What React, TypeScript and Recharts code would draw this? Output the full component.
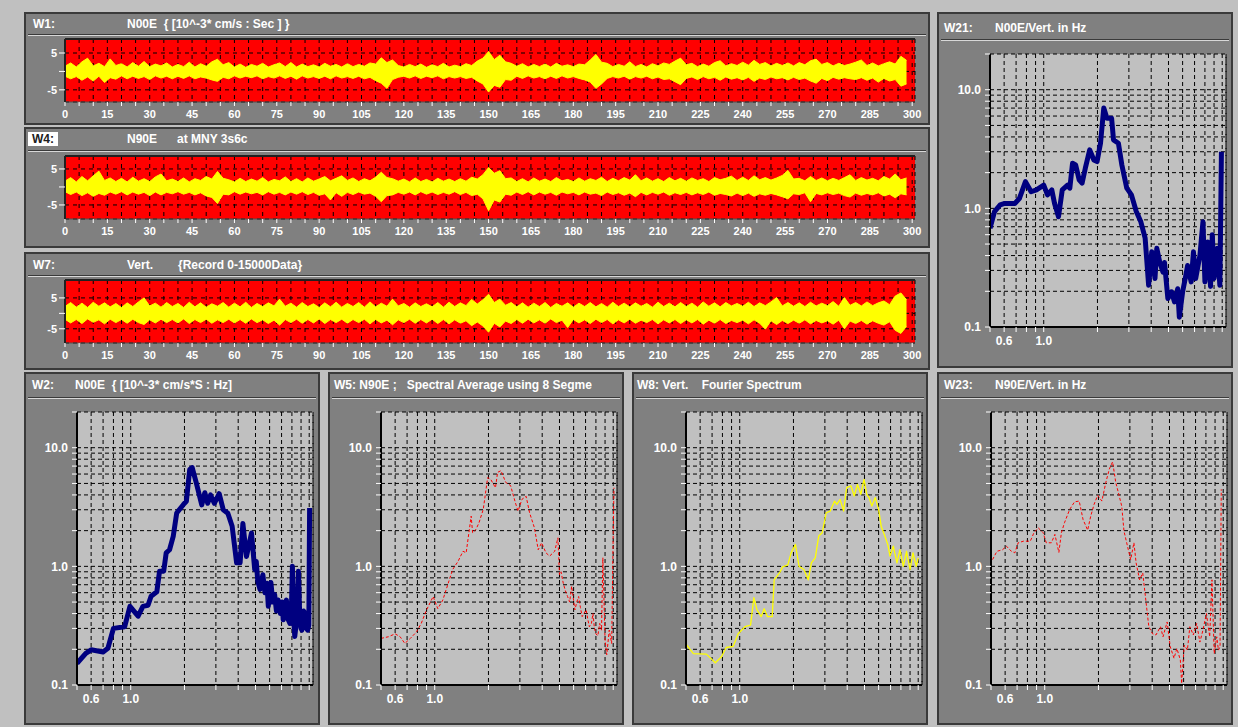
import React from 'react';
import {
  ComposedChart,
  Area,
  LineChart,
  Line,
  XAxis,
  YAxis,
  CartesianGrid,
  ReferenceLine,
} from 'recharts';

const FONT = '"Liberation Sans", Arial, sans-serif';

// sample grid of the time traces (2 s bins, seconds)
const waveSeconds = [
  0, 2, 4, 6, 8, 10, 12, 14, 16, 18,
  20, 22, 24, 26, 28, 30, 32, 34, 36, 38,
  40, 42, 44, 46, 48, 50, 52, 54, 56, 58,
  60, 62, 64, 66, 68, 70, 72, 74, 76, 78,
  80, 82, 84, 86, 88, 90, 92, 94, 96, 98,
  100, 102, 104, 106, 108, 110, 112, 114, 116, 118,
  120, 122, 124, 126, 128, 130, 132, 134, 136, 138,
  140, 142, 144, 146, 148, 150, 152, 154, 156, 158,
  160, 162, 164, 166, 168, 170, 172, 174, 176, 178,
  180, 182, 184, 186, 188, 190, 192, 194, 196, 198,
  200, 202, 204, 206, 208, 210, 212, 214, 216, 218,
  220, 222, 224, 226, 228, 230, 232, 234, 236, 238,
  240, 242, 244, 246, 248, 250, 252, 254, 256, 258,
  260, 262, 264, 266, 268, 270, 272, 274, 276, 278,
  280, 282, 284, 286, 288, 290, 292, 294, 296, 298,
];

const timeTicks = [
  0, 5, 10, 15, 20, 25, 30, 35, 40, 45, 50, 55, 60, 65, 70, 75, 80, 85, 90, 95,
  100, 105, 110, 115, 120, 125, 130, 135, 140, 145, 150, 155, 160, 165, 170, 175,
  180, 185, 190, 195, 200, 205, 210, 215, 220, 225, 230, 235, 240, 245, 250, 255,
  260, 265, 270, 275, 280, 285, 290, 295, 300,
];
const ampTicks = [-5, 0, 5];

// envelope of the traces per bin (10^-3 cm/s)
const w1Hi = [
  1.4, 2.3, 1.2, 2.6, 3.6, 1.5, 2.2, 1.3, 3.4, 1.6,
  2.1, 1.2, 2.4, 1.4, 2.7, 1.3, 2.0, 1.5, 2.3, 1.2,
  1.9, 1.3, 2.5, 1.2, 2.1, 1.4, 2.6, 3.3, 1.8, 2.4,
  1.2, 2.0, 1.1, 1.9, 1.4, 2.2, 1.2, 1.8, 2.3, 1.3,
  2.4, 1.2, 2.0, 1.3, 1.8, 1.2, 2.2, 1.4, 1.9, 1.2,
  2.1, 1.3, 1.9, 1.4, 2.3, 2.0, 3.7, 2.4, 3.1, 1.6,
  1.2, 1.9, 1.3, 2.0, 1.1, 1.8, 1.3, 2.2, 1.2, 1.7,
  1.3, 2.1, 1.6, 2.8, 3.6, 5.4, 3.2, 4.4, 2.6, 2.2,
  1.4, 2.1, 1.2, 1.9, 1.3, 2.0, 1.2, 2.2, 1.4, 1.8,
  1.3, 2.0, 1.8, 3.1, 4.6, 2.5, 2.2, 1.3, 1.9, 1.4,
  2.6, 1.3, 1.9, 1.2, 2.1, 1.5, 2.3, 1.9, 2.8, 3.6,
  1.8, 2.2, 1.3, 2.0, 1.4, 2.4, 2.9, 1.5, 2.1, 1.6,
  2.5, 1.7, 3.0, 1.9, 2.4, 1.5, 2.2, 1.6, 2.3, 1.5,
  2.4, 1.8, 2.9, 3.3, 1.9, 2.4, 1.5, 2.2, 1.6, 2.0,
  2.5, 3.1, 1.6, 2.3, 1.5, 2.1, 2.6, 2.0, 4.1, 3.0,
];
const w1Lo = [
  -1.3, -2.0, -1.4, -2.4, -1.5, -2.6, -1.3, -3.0, -1.7, -2.1,
  -1.2, -2.0, -1.3, -1.9, -1.4, -2.2, -1.2, -1.8, -1.3, -2.0,
  -1.3, -1.9, -1.2, -2.0, -1.5, -1.8, -2.3, -2.7, -1.6, -2.0,
  -1.2, -1.8, -1.3, -1.7, -1.2, -2.0, -1.4, -1.8, -1.2, -1.9,
  -1.3, -2.1, -1.2, -1.8, -1.4, -1.9, -1.3, -2.0, -1.2, -1.8,
  -1.4, -1.9, -1.3, -2.0, -1.6, -2.5, -3.2, -4.6, -2.2, -1.6,
  -1.3, -1.8, -1.2, -1.9, -1.3, -1.7, -1.2, -2.0, -1.4, -1.8,
  -1.4, -1.9, -1.6, -2.6, -3.4, -5.6, -3.8, -4.3, -2.2, -2.4,
  -1.3, -1.9, -1.2, -1.8, -1.4, -2.0, -1.3, -1.9, -1.2, -1.8,
  -1.4, -1.9, -2.3, -2.9, -4.6, -3.4, -1.9, -1.4, -1.8, -1.3,
  -2.1, -1.4, -1.8, -1.3, -2.0, -1.5, -2.2, -2.0, -2.8, -3.6,
  -1.9, -1.5, -2.2, -1.4, -2.0, -1.6, -2.4, -1.5, -2.1, -1.7,
  -2.3, -1.6, -2.7, -1.8, -2.2, -1.5, -2.0, -1.7, -2.3, -1.6,
  -2.2, -1.8, -2.6, -3.2, -1.9, -2.5, -1.6, -2.1, -1.7, -2.0,
  -2.2, -1.7, -2.4, -1.8, -2.9, -1.9, -2.6, -2.2, -4.0, -3.4,
];

const w4Hi = [
  1.6, 2.6, 1.4, 2.9, 1.7, 3.1, 4.4, 1.8, 2.5, 1.5,
  2.4, 1.4, 2.7, 1.6, 2.3, 1.5, 2.8, 3.6, 1.7, 2.2,
  1.5, 2.5, 1.4, 2.3, 1.8, 2.9, 2.2, 4.3, 2.4, 2.0,
  1.4, 2.4, 1.5, 2.2, 1.6, 2.6, 1.4, 2.1, 1.7, 2.8,
  1.5, 2.3, 1.4, 2.5, 1.6, 2.2, 2.9, 1.7, 2.4, 3.1,
  1.8, 2.5, 1.5, 2.3, 1.7, 2.7, 4.1, 2.6, 2.3, 1.6,
  2.2, 1.4, 2.5, 1.5, 2.1, 1.4, 2.4, 1.6, 2.2, 1.5,
  2.3, 1.6, 2.7, 2.2, 3.4, 5.4, 3.8, 4.5, 2.3, 2.5,
  1.5, 2.3, 1.4, 2.5, 1.6, 2.2, 1.5, 2.6, 1.7, 2.1,
  1.5, 2.5, 1.6, 2.3, 1.8, 2.7, 1.5, 2.4, 1.7, 2.6,
  1.9, 3.4, 1.7, 2.5, 1.6, 2.3, 1.5, 2.6, 1.7, 2.4,
  1.6, 2.5, 1.8, 2.3, 1.5, 2.6, 2.0, 2.4, 3.0, 1.8,
  2.7, 1.8, 3.1, 2.0, 2.6, 1.9, 2.5, 3.2, 4.6, 2.2,
  2.4, 1.7, 2.9, 1.8, 2.5, 1.7, 2.4, 1.8, 2.6, 3.4,
  1.8, 2.6, 1.9, 2.4, 1.7, 2.9, 2.2, 3.6, 2.0, 2.5,
];
const w4Lo = [
  -1.3, -2.1, -1.4, -2.4, -1.6, -2.6, -1.8, -2.3, -1.4, -2.0,
  -1.3, -2.2, -1.4, -2.0, -1.5, -2.4, -1.4, -2.2, -1.5, -1.9,
  -1.3, -2.0, -1.5, -2.2, -1.6, -2.5, -2.9, -4.6, -2.0, -2.2,
  -1.3, -2.0, -1.4, -1.9, -1.5, -2.2, -1.3, -2.0, -1.5, -2.2,
  -1.4, -2.0, -1.3, -2.1, -1.5, -2.3, -1.9, -3.6, -1.6, -2.6,
  -1.5, -2.1, -1.4, -2.0, -1.7, -2.6, -4.1, -2.4, -2.2, -1.5,
  -2.0, -1.4, -2.2, -1.3, -2.0, -1.4, -2.1, -1.5, -2.0, -1.3,
  -2.1, -1.5, -2.4, -2.0, -3.3, -6.6, -3.6, -4.2, -2.0, -2.3,
  -1.4, -2.1, -1.3, -2.2, -1.4, -2.0, -1.5, -2.3, -1.4, -1.9,
  -1.5, -2.2, -1.4, -2.0, -1.7, -2.4, -1.4, -2.1, -1.6, -2.3,
  -1.7, -2.7, -1.5, -2.2, -1.5, -2.0, -1.4, -2.3, -1.6, -2.1,
  -1.5, -2.2, -1.6, -2.1, -1.4, -2.3, -1.8, -2.1, -2.5, -1.7,
  -2.4, -1.7, -2.6, -1.9, -2.3, -1.8, -2.2, -2.7, -3.3, -1.9,
  -2.1, -1.6, -4.1, -1.8, -2.2, -1.6, -2.1, -1.7, -2.4, -2.8,
  -1.7, -2.3, -1.8, -2.2, -1.6, -2.5, -2.0, -3.0, -1.9, -2.2,
];

const w7Hi = [
  2.2, 3.5, 2.0, 3.3, 1.9, 3.6, 2.3, 3.4, 2.1, 3.2,
  1.9, 3.4, 2.2, 3.7, 5.0, 2.4, 3.3, 2.0, 3.5, 2.2,
  3.2, 1.9, 3.6, 2.1, 3.4, 2.0, 3.1, 2.3, 3.5, 2.0,
  3.3, 2.1, 3.6, 1.9, 3.2, 2.2, 3.4, 2.4, 4.6, 2.3,
  3.3, 2.0, 3.5, 2.2, 3.1, 1.9, 3.4, 2.1, 3.6, 2.0,
  3.2, 2.2, 3.5, 2.0, 3.7, 2.1, 3.3, 2.3, 4.6, 2.4,
  3.2, 2.0, 3.4, 2.2, 3.1, 2.1, 3.5, 2.0, 3.6, 2.2,
  3.4, 2.5, 4.5, 3.0, 4.4, 6.2, 3.5, 4.6, 2.6, 3.5,
  2.1, 3.4, 2.0, 3.3, 2.2, 3.5, 1.9, 3.2, 2.3, 3.4,
  2.0, 3.3, 2.2, 3.5, 2.1, 3.2, 2.0, 3.6, 2.2, 3.3,
  2.1, 3.4, 2.3, 3.2, 2.0, 3.6, 2.2, 3.3, 2.1, 3.5,
  2.2, 3.3, 2.0, 3.7, 2.3, 3.4, 2.1, 3.5, 2.4, 3.2,
  2.3, 3.6, 2.2, 3.4, 2.5, 3.7, 5.1, 2.4, 3.5, 2.3,
  3.4, 2.2, 3.6, 2.4, 3.3, 2.5, 3.8, 2.3, 5.1, 2.6,
  3.5, 2.4, 3.7, 2.5, 3.4, 4.0, 2.8, 5.6, 6.6, 4.4,
];
const w7Lo = [
  -1.9, -3.1, -2.0, -3.3, -1.8, -2.9, -2.1, -3.4, -1.9, -3.0,
  -2.0, -3.2, -1.9, -3.0, -3.6, -2.1, -3.1, -1.9, -3.0, -2.0,
  -3.1, -1.8, -3.3, -2.0, -3.0, -1.9, -3.2, -2.1, -3.0, -1.9,
  -3.1, -2.0, -3.2, -1.8, -3.0, -2.1, -3.3, -2.2, -3.8, -2.0,
  -3.0, -1.9, -3.2, -2.0, -3.1, -1.8, -3.3, -2.0, -3.0, -1.9,
  -3.2, -2.0, -3.0, -1.9, -3.4, -2.0, -3.1, -2.2, -3.7, -2.1,
  -3.0, -1.9, -3.2, -2.0, -3.1, -1.9, -3.3, -2.0, -3.4, -2.1,
  -3.2, -2.4, -4.0, -2.8, -4.1, -6.1, -3.2, -4.4, -2.5, -3.3,
  -2.0, -3.2, -1.9, -3.1, -2.1, -3.2, -1.8, -3.0, -2.2, -4.6,
  -2.0, -3.1, -2.1, -3.3, -1.9, -3.0, -2.0, -3.4, -2.1, -3.1,
  -1.9, -3.2, -2.2, -3.0, -2.0, -3.4, -2.1, -3.1, -2.0, -3.3,
  -2.1, -3.1, -2.0, -3.5, -2.2, -3.2, -2.0, -3.3, -2.3, -3.0,
  -2.2, -3.4, -2.1, -3.2, -5.1, -2.4, -3.6, -2.3, -3.3, -2.2,
  -3.2, -2.1, -3.4, -2.3, -3.1, -2.4, -3.5, -2.2, -5.0, -2.5,
  -3.3, -2.3, -3.5, -2.4, -3.2, -3.8, -2.7, -5.5, -6.5, -4.2,
];

// spectra: [frequency Hz, amplitude]
const w2Points = [
  [0.5, 0.152], [0.56, 0.185], [0.6, 0.198], [0.7, 0.19], [0.745, 0.204], [0.8, 0.3],
  [0.925, 0.31], [0.99, 0.46], [1.1, 0.38], [1.17, 0.46], [1.25, 0.47], [1.3, 0.56],
  [1.4, 0.61], [1.45, 0.91], [1.53, 0.91], [1.58, 1.3], [1.65, 1.38], [1.73, 1.79],
  [1.81, 2.82], [1.97, 3.31], [2.05, 3.54], [2.14, 6.56], [2.21, 6.8], [2.33, 5.06],
  [2.5, 3.3], [2.6, 4.17], [2.7, 3.4], [2.8, 4.0], [2.94, 3.4], [3.13, 4.1], [3.3, 3.0],
  [3.5, 2.8], [3.7, 2.18], [3.92, 1.07], [4.1, 1.07], [4.25, 2.3], [4.45, 1.21],
  [4.75, 1.91], [4.95, 0.94], [5.05, 1.1], [5.15, 0.75], [5.3, 0.64], [5.5, 0.85],
  [5.65, 0.6], [5.8, 0.72], [5.9, 0.46], [6.0, 0.62], [6.1, 0.73], [6.25, 0.5], [6.4, 0.58],
  [6.55, 0.42], [6.7, 0.52], [6.9, 0.4], [7.05, 0.5], [7.15, 0.354], [7.3, 0.47],
  [7.45, 0.52], [7.6, 0.36], [7.8, 0.33], [7.95, 0.45], [8.05, 1.0], [8.15, 0.4],
  [8.3, 0.256], [8.5, 0.35], [8.7, 0.91], [8.85, 0.38], [9.0, 0.3], [9.1, 0.29],
  [9.3, 0.42], [9.5, 0.4], [9.65, 0.3], [9.8, 0.29], [9.95, 0.32], [10.05, 3.1],
];

const w5Points = [
  [0.5, 0.247], [0.55, 0.255], [0.6, 0.27], [0.64, 0.255], [0.68, 0.224], [0.73, 0.247],
  [0.79, 0.28], [0.84, 0.33], [0.9, 0.43], [0.98, 0.557], [1.04, 0.44], [1.11, 0.52],
  [1.19, 0.72], [1.26, 0.94], [1.35, 1.1], [1.44, 1.34], [1.5, 1.3], [1.6, 2.65],
  [1.63, 1.92], [1.7, 2.04], [1.77, 2.33], [1.87, 3.02], [1.98, 5.6], [2.06, 5.4],
  [2.19, 4.6], [2.25, 6.2], [2.35, 6.4], [2.5, 5.1], [2.66, 4.8], [2.83, 3.44],
  [2.93, 2.92], [3.08, 3.67], [3.25, 3.9], [3.4, 2.83], [3.62, 2.11], [3.8, 1.38],
  [3.97, 1.58], [4.2, 1.3], [4.4, 1.22], [4.7, 1.34], [4.9, 1.74], [5.0, 0.85],
  [5.1, 0.9], [5.25, 0.72], [5.4, 0.62], [5.55, 0.557], [5.7, 0.5], [5.85, 0.68],
  [6.1, 0.43], [6.25, 0.5], [6.4, 0.557], [6.55, 0.45], [6.7, 0.377], [6.85, 0.4],
  [7.05, 0.43], [7.2, 0.36], [7.35, 0.31], [7.55, 0.33], [7.7, 0.4], [7.85, 0.3],
  [8.0, 0.27], [8.2, 0.26], [8.4, 0.33], [8.6, 0.29], [8.75, 1.18], [9.0, 0.24],
  [9.2, 0.18], [9.5, 0.29], [9.8, 0.224], [10.0, 1.92], [10.1, 4.6],
];

const w8Points = [
  [0.5, 0.221], [0.55, 0.184], [0.65, 0.182], [0.73, 0.154], [0.79, 0.173], [0.84, 0.207],
  [0.92, 0.212], [0.98, 0.27], [1.07, 0.31], [1.15, 0.32], [1.2, 0.546], [1.25, 0.43],
  [1.32, 0.377], [1.37, 0.44], [1.43, 0.377], [1.52, 0.377], [1.56, 0.77], [1.67, 0.88],
  [1.74, 0.99], [1.86, 1.03], [1.94, 1.3], [2.05, 1.53], [2.15, 1.0], [2.29, 0.94],
  [2.42, 0.77], [2.52, 1.07], [2.65, 1.18], [2.77, 1.8], [2.9, 1.92], [3.05, 2.83],
  [3.21, 2.92], [3.4, 3.55], [3.5, 3.33], [3.65, 3.67], [3.82, 2.92], [3.97, 4.6],
  [4.2, 4.76], [4.38, 3.92], [4.57, 4.9], [4.77, 4.05], [4.97, 5.4], [5.15, 4.05],
  [5.3, 3.8], [5.5, 3.22], [5.75, 3.8], [6.0, 3.02], [6.2, 2.18], [6.5, 1.8],
  [6.75, 1.53], [6.95, 1.22], [7.25, 1.48], [7.6, 1.07], [7.9, 1.38], [8.25, 1.0],
  [8.6, 1.34], [9.0, 0.94], [9.35, 1.3], [9.75, 1.0], [10.0, 1.18],
];

const w21Points = [
  [0.5, 0.68], [0.53, 0.94], [0.57, 1.07], [0.605, 1.1], [0.69, 1.1], [0.73, 1.21],
  [0.79, 1.68], [0.85, 1.38], [0.91, 1.43], [1.0, 1.57], [1.05, 1.3], [1.11, 1.43],
  [1.15, 1.1], [1.21, 0.85], [1.27, 1.43], [1.36, 1.57], [1.4, 1.48], [1.45, 2.4],
  [1.51, 2.32], [1.58, 1.74], [1.64, 1.63], [1.71, 2.18], [1.81, 3.11], [1.91, 2.56],
  [1.99, 2.48], [2.08, 3.54], [2.17, 7.0], [2.26, 5.76], [2.4, 5.76], [2.46, 3.78],
  [2.62, 3.54], [2.74, 2.32], [2.92, 1.48], [3.1, 1.3], [3.3, 0.94], [3.5, 0.77],
  [3.7, 0.56], [3.87, 0.225], [4.03, 0.43], [4.2, 0.256], [4.3, 0.46], [4.47, 0.35],
  [4.66, 0.29], [4.75, 0.35], [4.96, 0.174], [5.2, 0.198], [5.4, 0.163], [5.63, 0.21],
  [5.75, 0.121], [6.0, 0.198], [6.25, 0.27], [6.4, 0.33], [6.7, 0.24], [6.9, 0.43],
  [7.1, 0.256], [7.5, 0.4], [7.8, 0.77], [8.0, 0.24], [8.3, 0.52], [8.6, 0.22],
  [8.8, 0.6], [9.0, 0.256], [9.4, 0.46], [9.7, 0.225], [9.9, 3.0],
];

const w23Points = [
  [0.51, 1.14], [0.54, 1.34], [0.58, 1.38], [0.61, 1.48], [0.65, 1.34], [0.68, 1.3],
  [0.71, 1.58], [0.76, 1.63], [0.83, 1.63], [0.87, 1.92], [0.92, 2.11], [0.98, 1.92],
  [1.02, 1.58], [1.09, 1.58], [1.14, 1.86], [1.2, 1.31], [1.24, 1.92], [1.29, 2.33],
  [1.38, 3.02], [1.47, 3.5], [1.56, 3.55], [1.64, 2.48], [1.74, 2.02], [1.81, 2.65],
  [1.89, 3.33], [1.98, 3.97], [2.09, 3.55], [2.2, 5.1], [2.3, 6.6], [2.4, 7.6],
  [2.5, 5.1], [2.6, 4.05], [2.7, 3.22], [2.78, 1.98], [2.94, 1.38], [3.03, 1.14],
  [3.16, 1.58], [3.25, 1.07], [3.4, 0.77], [3.54, 0.88], [3.7, 0.49], [3.83, 0.31],
  [4.02, 0.27], [4.2, 0.264], [4.45, 0.31], [4.6, 0.255], [4.85, 0.34], [5.05, 0.21],
  [5.3, 0.168], [5.5, 0.203], [5.75, 0.163], [5.85, 0.103], [6.05, 0.217], [6.3, 0.197],
  [6.5, 0.31], [6.8, 0.264], [7.1, 0.33], [7.4, 0.23], [7.7, 0.29], [8.05, 0.4],
  [8.4, 0.255], [8.65, 0.77], [8.9, 0.184], [9.2, 0.255], [9.4, 0.197], [9.6, 0.21],
  [9.75, 4.46],
];

const specXTicks = [0.5, 0.6, 0.7, 0.8, 0.9, 1, 2, 3, 4, 5, 6, 7, 8, 9, 10];
const specYTicks = [0.1, 0.2, 0.3, 0.4, 0.5, 0.6, 0.7, 0.8, 0.9, 1, 2, 3, 4, 5, 6, 7, 8, 9, 10, 20];
const specXLabel = (v: number) => (v === 0.6 ? '0.6' : v === 1 ? '1.0' : '');
const specYLabel = (v: number) => (v === 0.1 ? '0.1' : v === 1 ? '1.0' : v === 10 ? '10.0' : '');

const tickText = (size: number) => ({ fill: '#ffffff', fontSize: size, fontWeight: 700, fontFamily: FONT });

const Panel = ({ x, y, w, h, sep }: { x: number; y: number; w: number; h: number; sep: number }) => (
  <div
    style={{
      position: 'absolute', left: x, top: y, width: w, height: h, boxSizing: 'border-box',
      background: '#808080', border: '2px solid #3a3a3a',
    }}
  >
    <div style={{ position: 'absolute', left: 2, right: 2, top: sep, height: 1, background: '#3a3a3a' }} />
    <div style={{ position: 'absolute', left: 2, right: 2, top: sep + 1, height: 1, background: '#d8d8d8' }} />
  </div>
);

const Title = ({ x, y, children, boxed }: { x: number; y: number; children: string; boxed?: boolean }) => (
  <div
    style={{
      position: 'absolute', left: x, top: y, fontFamily: FONT, fontSize: 12, fontWeight: 700,
      lineHeight: '14px', whiteSpace: 'pre', color: boxed ? '#202020' : '#ffffff',
      background: boxed ? '#ffffff' : 'transparent', padding: boxed ? '0 4px' : 0,
    }}
  >
    {children}
  </div>
);

// plot area of a time trace starts at (x, y) and is 850 x 63
const WaveChart = ({ x, y, hi, lo, domain }: { x: number; y: number; hi: number[]; lo: number[]; domain: [number, number] }) => {
  const data = waveSeconds.map((t, i) => ({ t, band: [lo[i], hi[i]] }));
  return (
    <div style={{ position: 'absolute', left: x - 40, top: y - 3 }}>
      <ComposedChart width={40 + 850 + 14} height={3 + 63 + 22} data={data} margin={{ top: 3, right: 14, bottom: 0, left: 0 }}>
        <CartesianGrid fill="#ff0000" stroke="#000000" strokeDasharray="4 4" />
        <XAxis
          dataKey="t" type="number" domain={[0, 301]} allowDataOverflow ticks={timeTicks} interval={0}
          tickFormatter={(v: number) => (v % 15 === 0 ? String(v) : '')}
          height={22} tickSize={4} tickMargin={4} tick={tickText(11)}
          tickLine={{ stroke: '#ffffff' }} axisLine={{ stroke: '#505050' }}
        />
        <YAxis
          type="number" domain={domain} allowDataOverflow ticks={ampTicks} interval={0}
          tickFormatter={(v: number) => (v === 0 ? '' : String(v))}
          width={40} tickSize={6} tickMargin={2} tick={tickText(11)}
          tickLine={{ stroke: '#ffffff' }} axisLine={{ stroke: '#202020', strokeWidth: 2 }}
        />
        <ReferenceLine y={domain[1]} stroke="#202020" strokeWidth={2} />
        <Area
          dataKey="band" type="linear" stroke="#ffff00" strokeWidth={1} fill="#ffff00" fillOpacity={1}
          dot={false} activeDot={false} isAnimationActive={false}
        />
      </ComposedChart>
    </div>
  );
};

// plot area of a spectrum starts at (x, y) and is 236 x 273
const SpecChart = ({ x, y, points, color, width, dash }: { x: number; y: number; points: number[][]; color: string; width: number; dash?: string }) => {
  const data = points.map(([f, a]) => ({ f, a }));
  return (
    <div style={{ position: 'absolute', left: x - 50, top: y - 5 }}>
      <LineChart width={50 + 236 + 6} height={5 + 273 + 28} data={data} margin={{ top: 5, right: 6, bottom: 0, left: 0 }}>
        <CartesianGrid fill="#c0c0c0" stroke="#000000" strokeDasharray="4 3" />
        <XAxis
          dataKey="f" type="number" scale="log" domain={[0.5, 10.5]} allowDataOverflow ticks={specXTicks} interval={0}
          tickFormatter={specXLabel} height={28} tickSize={5} tickMargin={4} tick={tickText(12)}
          tickLine={{ stroke: '#ffffff' }} axisLine={{ stroke: '#000000', strokeWidth: 2 }}
        />
        <YAxis
          type="number" scale="log" domain={[0.1, 20]} allowDataOverflow ticks={specYTicks} interval={0}
          tickFormatter={specYLabel} width={50} tickSize={5} tickMargin={4} tick={tickText(12)}
          tickLine={{ stroke: '#ffffff' }} axisLine={{ stroke: '#000000', strokeWidth: 2 }}
        />
        <ReferenceLine x={10.5} stroke="#000000" strokeDasharray="4 3" />
        <Line
          dataKey="a" type="linear" stroke={color} strokeWidth={width} strokeDasharray={dash}
          strokeLinejoin="round" dot={false} activeDot={false} isAnimationActive={false}
        />
      </LineChart>
    </div>
  );
};

export default function App() {
  return (
    <div style={{ position: 'absolute', left: 0, top: 0, width: 1238, height: 727, background: '#c0c0c0', overflow: 'hidden' }}>
      <Panel x={24} y={12} w={906} h={113} sep={20} />
      <Panel x={24} y={127} w={906} h={121} sep={21} />
      <Panel x={24} y={252} w={906} h={118} sep={21} />
      <Panel x={937} y={12} w={296} h={356} sep={25} />
      <Panel x={24} y={372} w={296} h={353} sep={23} />
      <Panel x={328} y={372} w={296} h={353} sep={23} />
      <Panel x={632} y={372} w={296} h={353} sep={23} />
      <Panel x={937} y={372} w={296} h={353} sep={23} />

      <Title x={33} y={17}>W1:</Title>
      <Title x={127} y={17}>{'N00E  { [10^-3* cm/s : Sec ] }'}</Title>
      <Title x={28} y={132} boxed>W4:</Title>
      <Title x={127} y={132}>{'N90E      at MNY 3s6c'}</Title>
      <Title x={33} y={258}>W7:</Title>
      <Title x={127} y={258}>Vert.</Title>
      <Title x={178} y={258}>{'{Record 0-15000Data}'}</Title>
      <Title x={944} y={21}>W21:</Title>
      <Title x={995} y={21}>N00E/Vert. in Hz</Title>
      <Title x={32} y={378}>W2:</Title>
      <Title x={75} y={378}>{'N00E  { [10^-3* cm/s*S : Hz]'}</Title>
      <Title x={334} y={378}>{'W5: N90E ;   Spectral Average using 8 Segme'}</Title>
      <Title x={637} y={378}>{'W8: Vert.    Fourier Spectrum'}</Title>
      <Title x={944} y={378}>W23:</Title>
      <Title x={995} y={378}>N90E/Vert. in Hz</Title>

      <WaveChart x={65} y={39} hi={w1Hi} lo={w1Lo} domain={[-8.3, 8.8]} />
      <WaveChart x={65} y={156} hi={w4Hi} lo={w4Lo} domain={[-8.9, 8.6]} />
      <WaveChart x={65} y={280} hi={w7Hi} lo={w7Lo} domain={[-9.6, 10.8]} />

      <SpecChart x={990} y={54} points={w21Points} color="#000080" width={5} />
      <SpecChart x={77} y={412} points={w2Points} color="#000080" width={5} />
      <SpecChart x={381} y={412} points={w5Points} color="#ff0000" width={1} dash="3 2" />
      <SpecChart x={686} y={412} points={w8Points} color="#ffff00" width={1.3} />
      <SpecChart x={991} y={412} points={w23Points} color="#ff0000" width={1} dash="3 2" />
    </div>
  );
}
